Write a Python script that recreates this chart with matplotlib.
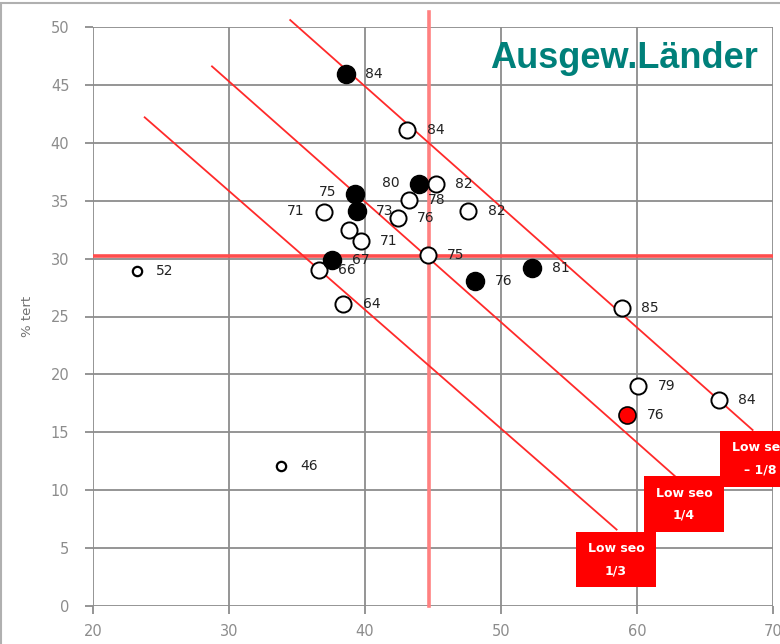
import matplotlib.pyplot as plt
from matplotlib.patches import Rectangle

# open circles (x, y, label)
open_x = [43.1, 45.2, 43.2, 42.4, 47.6, 37.0, 38.8, 39.7, 36.6, 38.4, 44.6, 58.9, 60.1, 66.0]
open_y = [41.1, 36.4, 35.1, 33.5, 34.1, 34.0, 32.5, 31.5, 29.0, 26.1, 30.3, 25.7, 19.0, 17.8]
open_lab = ["84", "82", "78", "76", "82", "71", "", "71", "66", "64", "75", "85", "79", "84"]

# filled black circles
fill_x = [38.6, 44.0, 39.3, 39.4, 37.6, 48.1, 52.3]
fill_y = [45.9, 36.4, 35.6, 34.1, 29.9, 28.1, 29.2]
fill_lab = ["84", "80", "75", "73", "67", "76", "81"]

# small open circles
small_x = [23.2, 33.8]
small_y = [28.9, 12.1]
small_lab = ["52", "46"]

# red point
red_x = [59.3]
red_y = [16.5]
red_lab = ["76"]

# mean lines
mean_x = 44.7
mean_y = 30.2

# diagonal reference lines (start, end)
diag_x0 = [23.8, 28.75, 34.5]
diag_y0 = [42.2, 46.6, 50.6]
diag_x1 = [58.5, 62.9, 68.5]
diag_y1 = [6.6, 11.1, 15.2]
box_text = ["Low seo\n1/3", "Low seo\n1/4", "Low seo\n\u2013 1/8"]

fig = plt.figure(figsize=(7.8, 6.44), dpi=100)
ax = fig.add_axes([93 / 780, 38 / 644, 680 / 780, 579 / 644])

ax.set_xlim(20, 70)
ax.set_ylim(0, 50)
ax.set_xticks(range(20, 71, 10))
ax.set_yticks(range(0, 51, 5))
ax.grid(True, color="#8c8c8c", lw=1.3)
ax.set_axisbelow(True)
for s in ax.spines.values():
    s.set_visible(False)
ax.tick_params(colors="#8c8c8c", labelcolor="#8c8c8c", labelsize=10.5, length=6, width=1.3)
ax.tick_params(axis="y", pad=11)
ax.tick_params(axis="x", pad=7)
ax.set_ylabel("% tert", color="#707070", fontsize=9.5, labelpad=12)

# mean lines
ax.plot([20, 70], [mean_y, mean_y], color="#ff4d4d", lw=2.6, zorder=2)
ax.plot([mean_x, mean_x], [0, 51.3], color="#ff8080", lw=2.6, zorder=2, clip_on=False)

# diagonal lines
for x0, y0, x1, y1 in zip(diag_x0, diag_y0, diag_x1, diag_y1):
    ax.plot([x0, x1], [y0, y1], color="#ff2a2a", lw=1.3, zorder=2, clip_on=False)

# boxes
boxes = [(55.5, 1.6), (60.5, 6.4), (66.1, 10.3)]
for (bx, by), t in zip(boxes, box_text):
    ax.add_patch(Rectangle((bx, by), 5.9, 4.8, facecolor="#ff0000", edgecolor="none",
                           zorder=5, clip_on=False))
    ax.text(bx + 2.95, by + 2.4, t, ha="center", va="center", color="white",
            fontsize=9, fontweight="bold", linespacing=1.9, zorder=6, clip_on=False)

ax.scatter(open_x, open_y, s=135, facecolor="white", edgecolor="black", lw=1.4, zorder=3)
ax.scatter(fill_x, fill_y, s=170, facecolor="black", edgecolor="black", lw=1.0, zorder=4)
ax.scatter(small_x, small_y, s=45, facecolor="white", edgecolor="black", lw=1.6, zorder=3)
ax.scatter(red_x, red_y, s=150, facecolor="#ff0000", edgecolor="black", lw=1.2, zorder=4)

# label offsets (points), right by default
left_labels = {("fill", 1), ("fill", 2), ("open", 5)}
def put(xs, ys, labs, kind):
    for i, (x, y, l) in enumerate(zip(xs, ys, labs)):
        if not l:
            continue
        if (kind, i) in left_labels:
            ax.annotate(l, (x, y), xytext=(-14, 1), textcoords="offset points",
                        ha="right", va="center", fontsize=10, color="#222222", zorder=6)
        else:
            ax.annotate(l, (x, y), xytext=(14, 0), textcoords="offset points",
                        ha="left", va="center", fontsize=10, color="#222222", zorder=6)

put(open_x, open_y, open_lab, "open")
put(fill_x, fill_y, fill_lab, "fill")
put(small_x, small_y, small_lab, "small")
put(red_x, red_y, red_lab, "red")

ax.text(0.978, 0.975, "Ausgew.L\u00e4nder", transform=ax.transAxes, ha="right", va="top",
        fontsize=26, fontweight="bold", color="#00807a", family="Liberation Sans", zorder=7)

fig.patches.append(Rectangle((0.001, -0.01), 1.2, 1.005, transform=fig.transFigure,
                             fill=False, edgecolor="#b0b0b0", lw=1.5))

fig.savefig("out.png", dpi=100)
